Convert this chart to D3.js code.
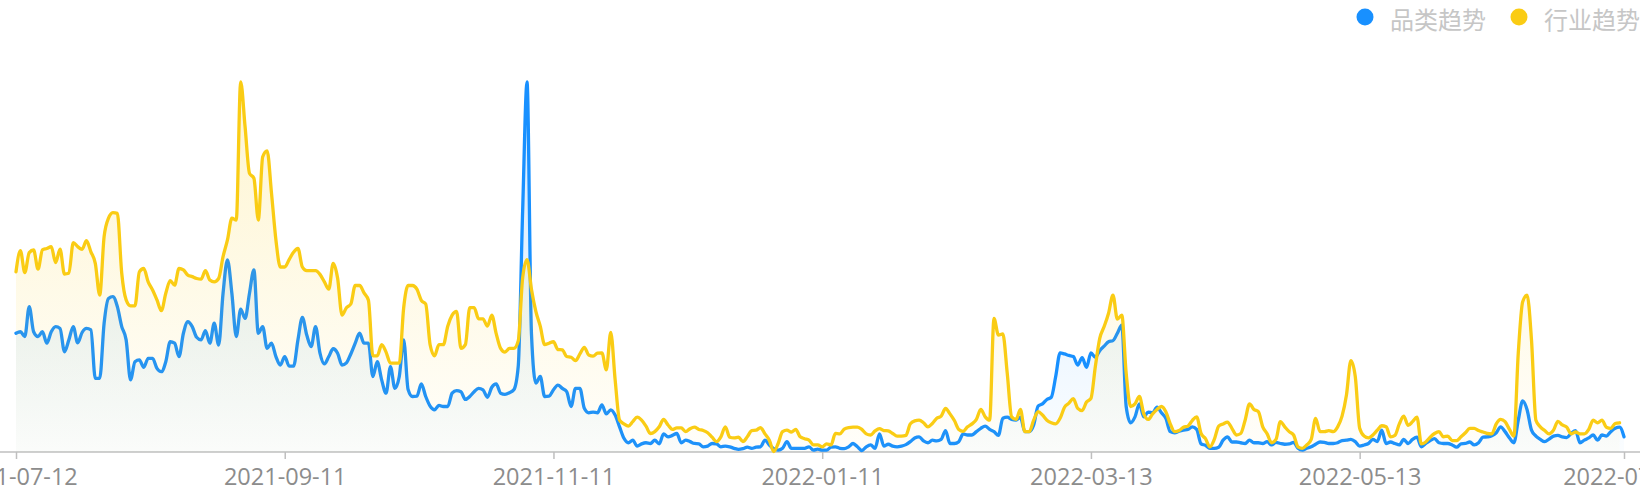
<!DOCTYPE html>
<html>
<head>
<meta charset="utf-8">
<script src="https://cdn.jsdelivr.net/npm/d3@7"></script>
<style>
  body { margin: 0; background: #fff; }
  svg { display: block; }
</style>
</head>
<body>
<div id="chart"></div>
<script>
// 資料：每日指數，從 2021-07-12 起
const startDate = '2021-07-12';
const tickLabels = ['2021-07-12', '2021-09-11', '2021-11-11', '2022-01-11', '2022-03-13', '2022-05-13', '2022-07-12'];
const seriesNames = ['品类趋势', '行业趋势'];
const seriesColors = ['#1890ff', '#facc14'];

// 品类趋势 (366 天)
const categoryTrend = [
  32.1,32.5,31.2,39.3,32.5,31.2,32.5,29.4,32.5,33.9,33.4,27.1,30.3,33.9,29.5,32.3,33.4,33.0,19.9,19.9,
  34.8,41.5,42.0,39.3,33.9,30.3,19.5,24.4,24.9,22.9,25.3,25.3,22.6,21.7,24.4,29.8,29.4,25.8,32.1,35.2,
  33.9,31.0,30.3,32.8,29.4,34.8,28.9,42.9,51.9,42.9,31.2,38.6,36.1,42.9,49.2,32.1,33.9,28.0,29.4,25.8,
  23.5,25.8,23.2,23.2,30.3,36.4,31.6,28.5,33.9,26.7,23.8,25.8,27.9,26.7,23.5,24.1,26.5,29.4,32.1,29.4,
  29.4,20.4,24.4,19.5,15.9,23.1,17.2,20.4,30.3,16.9,15.0,15.1,18.4,15.0,12.4,11.4,12.6,12.3,12.3,15.9,
  16.6,16.3,14.2,15.0,16.3,17.2,16.8,14.8,17.5,18.4,15.9,15.6,16.0,16.8,23.1,65.0,100,32.1,18.6,20.4,
  15.0,15.1,16.8,18.1,17.2,16.3,12.3,17.2,17.2,11.8,10.6,10.8,10.6,12.7,10.3,11.4,10.0,6.8,3.7,2.5,
  3.2,1.6,2.2,2.5,2.3,3.2,2.2,4.9,4.1,4.5,5.0,2.5,3.2,2.8,2.3,2.2,1.4,1.6,2.3,2.2,
  1.4,1.6,1.4,1.0,0.7,0.9,1.3,1.0,1.3,1.4,3.2,1.9,0.9,0.5,1.0,2.8,1.0,1.0,1.0,1.0,
  1.4,0.5,0.8,0.5,0.5,1.3,1.4,1.0,0.9,1.4,2.3,1.4,0.4,1.4,1.9,1.0,4.9,1.6,2.1,1.6,
  1.4,1.6,2.0,2.8,3.8,4.1,3.0,2.5,3.2,3.0,3.4,5.8,2.3,2.3,2.8,4.9,4.6,4.6,5.5,6.4,
  7.0,6.1,5.5,4.5,9.1,9.4,8.8,8.6,9.4,5.5,5.5,7.3,12.4,13.0,14.2,14.8,20.4,26.8,26.5,26.1,
  25.8,23.5,25.5,22.9,26.8,25.6,27.4,28.6,29.8,30.1,32.1,34.3,12.3,7.9,9.5,13.0,9.5,10.8,10.6,12.1,
  10.6,9.1,5.5,5.2,5.6,5.9,6.1,6.8,6.1,2.2,1.8,1.0,1.0,1.3,3.2,4.1,2.7,2.7,2.5,2.3,
  3.2,2.5,2.5,2.3,2.8,1.9,2.6,2.3,2.1,2.2,2.6,1.0,0.5,1.0,1.4,2.1,2.7,2.6,2.3,2.3,
  2.5,3.1,3.2,3.4,2.8,1.6,1.9,2.3,3.4,2.8,5.9,2.3,2.7,2.3,1.9,3.4,2.3,3.4,4.0,1.4,
  2.3,3.1,3.6,2.5,2.3,2.3,1.9,1.3,2.2,2.3,2.7,1.9,2.5,4.0,4.1,4.4,5.2,6.8,5.5,3.8,
  2.5,8.6,13.8,11.4,5.9,4.3,3.4,2.8,3.5,4.3,4.5,4.1,3.9,5.0,5.8,2.5,3.2,3.8,4.6,3.2,
  4.6,4.3,5.5,6.4,6.7,4.1
];

// 行業趨勢 (365 天)
const industryTrend = [
  48.7,54.4,48.5,53.9,54.6,49.4,54.6,55.0,55.5,51.2,54.8,48.1,48.3,56.6,55.5,54.8,57.1,54.1,51.0,42.4,
  58.2,63.2,64.7,64.5,48.3,41.1,39.5,39.5,48.7,49.6,46.0,43.8,41.1,38.2,42.9,46.3,45.1,49.6,49.2,47.8,
  47.4,46.9,46.7,49.0,46.5,46.0,46.9,52.8,57.3,63.2,62.7,100,87.9,75.3,74.0,62.7,79.8,81.4,69.9,57.3,
  50.0,50.0,52.0,54.0,55.0,50.0,49.0,49.0,49.0,48.0,46.0,44.0,51.0,47.0,37.0,39.0,40.0,45.0,45.0,43.0,
  41.0,26.0,26.0,29.0,27.0,24.0,24.0,24.0,39.0,45.0,45.0,44.0,41.0,40.0,29.0,26.0,29.0,29.0,34.0,37.0,
  38.0,28.0,29.0,39.0,39.0,36.0,36.0,34.0,37.0,32.0,28.0,27.0,28.0,28.0,30.0,47.0,52.0,44.0,38.0,34.0,
  29.0,29.4,29.8,27.7,27.6,25.8,25.6,24.7,26.5,28.3,26.2,25.9,26.7,26.8,22.2,32.3,19.5,8.6,7.6,7.0,
  8.2,9.4,8.6,7.0,5.0,5.5,6.8,8.8,7.3,6.1,6.5,6.5,5.5,6.3,6.7,6.1,5.8,5.2,4.0,2.8,
  4.1,6.8,4.0,3.8,4.0,2.8,4.1,5.8,5.9,6.6,4.9,3.2,0.1,2.3,5.5,5.9,5.4,6.1,4.1,3.6,
  3.2,1.9,1.9,1.4,2.2,1.9,5.0,4.9,6.2,6.6,6.7,6.7,6.1,4.9,4.6,5.7,6.3,5.8,5.7,5.0,
  4.3,4.3,4.5,7.6,8.4,8.6,7.9,6.8,7.7,9.1,9.7,11.8,10.3,8.5,6.1,5.6,6.8,7.6,8.8,11.5,
  9.5,8.6,36.1,31.6,31.9,21.3,9.5,8.8,11.5,5.5,5.5,8.6,10.9,10.0,8.6,7.9,7.6,9.1,12.1,13.2,
  14.4,11.8,11.2,13.5,14.5,23.1,30.7,33.9,37.5,42.4,35.9,37.0,21.3,12.3,13.0,15.0,10.3,8.8,10.3,11.5,
  12.3,10.9,7.6,5.5,5.8,6.7,7.0,8.5,9.5,5.0,3.6,1.4,3.4,7.0,7.6,8.1,6.4,4.6,5.0,8.6,
  13.0,11.5,10.9,6.8,4.9,2.5,3.4,8.2,6.8,5.5,4.6,1.4,1.0,1.9,3.4,9.1,5.5,5.5,5.8,5.5,
  6.8,9.7,15.4,24.7,20.4,6.4,4.3,3.8,4.6,5.9,7.1,6.8,4.1,4.5,7.6,9.7,7.2,8.2,9.4,2.2,
  2.7,4.0,5.0,5.5,4.1,4.3,3.1,3.1,4.1,5.2,6.4,6.4,5.8,5.4,5.0,4.9,7.6,8.8,8.2,6.1,
  4.3,26.7,40.6,42.4,30.3,8.6,6.8,5.8,4.9,5.9,8.3,7.3,6.7,4.9,5.4,4.9,4.9,6.1,8.6,7.9,
  8.6,6.7,6.4,7.7,7.9
];

const width = 1640;
const height = 500;

document.addEventListener('DOMContentLoaded', () => {
    drawChart();
});

function drawChart() {
    const parse = d3.timeParse('%Y-%m-%d');
    const start = parse(startDate);
    const toPoints = arr => arr.map((v, i) => ({ date: d3.timeDay.offset(start, i), value: v }));
    const series = [toPoints(categoryTrend), toPoints(industryTrend)];

    const svg = d3.select('#chart')
        .append('svg')
        .attr('width', width)
        .attr('height', height);

    const x = d3.scaleTime()
        .domain([start, d3.timeDay.offset(start, categoryTrend.length - 1)])
        .range([16, 1624]);

    const y = d3.scaleLinear()
        .domain([0, 100])
        .range([452, 82]);

    // 漸層填色
    const defs = svg.append('defs');
    seriesColors.forEach((c, i) => {
        const g = defs.append('linearGradient')
            .attr('id', `grad-${i}`)
            .attr('x1', 0).attr('y1', 0)
            .attr('x2', 0).attr('y2', 1);
        g.append('stop').attr('offset', '0%').attr('stop-color', c).attr('stop-opacity', 0.2);
        g.append('stop').attr('offset', '100%').attr('stop-color', c).attr('stop-opacity', 0.02);
    });

    // x 軸
    const axisG = svg.append('g').attr('transform', `translate(0,${y(0)})`);
    axisG.append('line')
        .attr('x1', 0).attr('x2', width)
        .attr('stroke', '#bfbfbf')
        .attr('stroke-width', 1.5);

    const axis = d3.axisBottom(x)
        .tickValues(tickLabels.map(parse))
        .tickFormat(d3.timeFormat('%Y-%m-%d'))
        .tickSize(7)
        .tickSizeOuter(0)
        .tickPadding(0);
    const ax = axisG.append('g').call(axis);
    ax.select('.domain').remove();
    ax.selectAll('.tick line').attr('stroke', '#bfbfbf').attr('stroke-width', 1.5);
    ax.selectAll('.tick text')
        .attr('y', 33)
        .attr('dy', null)
        .attr('fill', '#8c8c8c')
        .style('font-family', '"Open Sans", "Noto Sans", sans-serif')
        .style('font-size', '23.5px');

    const area = d3.area()
        .x(d => x(d.date))
        .y0(y(0))
        .y1(d => y(d.value))
        .curve(d3.curveMonotoneX);

    const line = d3.line()
        .x(d => x(d.date))
        .y(d => y(d.value))
        .curve(d3.curveMonotoneX);

    // 依序畫：面積 + 線
    series.forEach((data, i) => {
        svg.append('path')
            .datum(data)
            .attr('d', area)
            .attr('fill', `url(#grad-${i})`);
        svg.append('path')
            .datum(data)
            .attr('d', line)
            .attr('fill', 'none')
            .attr('stroke', seriesColors[i])
            .attr('stroke-width', 3.3)
            .attr('stroke-linejoin', 'round')
            .attr('stroke-linecap', 'round');
    });

    // 圖例
    const legendX = [1365, 1519];
    const legend = svg.append('g');
    seriesNames.forEach((name, i) => {
        legend.append('circle')
            .attr('cx', legendX[i])
            .attr('cy', 17)
            .attr('r', 8.5)
            .attr('fill', seriesColors[i]);
        legend.append('text')
            .attr('x', legendX[i] + 25)
            .attr('y', 18)
            .attr('dominant-baseline', 'central')
            .attr('fill', '#c6c6c6')
            .style('font-family', '"Noto Sans CJK SC", sans-serif')
            .style('font-size', '24px')
            .text(name);
    });
}
</script>
</body>
</html>
